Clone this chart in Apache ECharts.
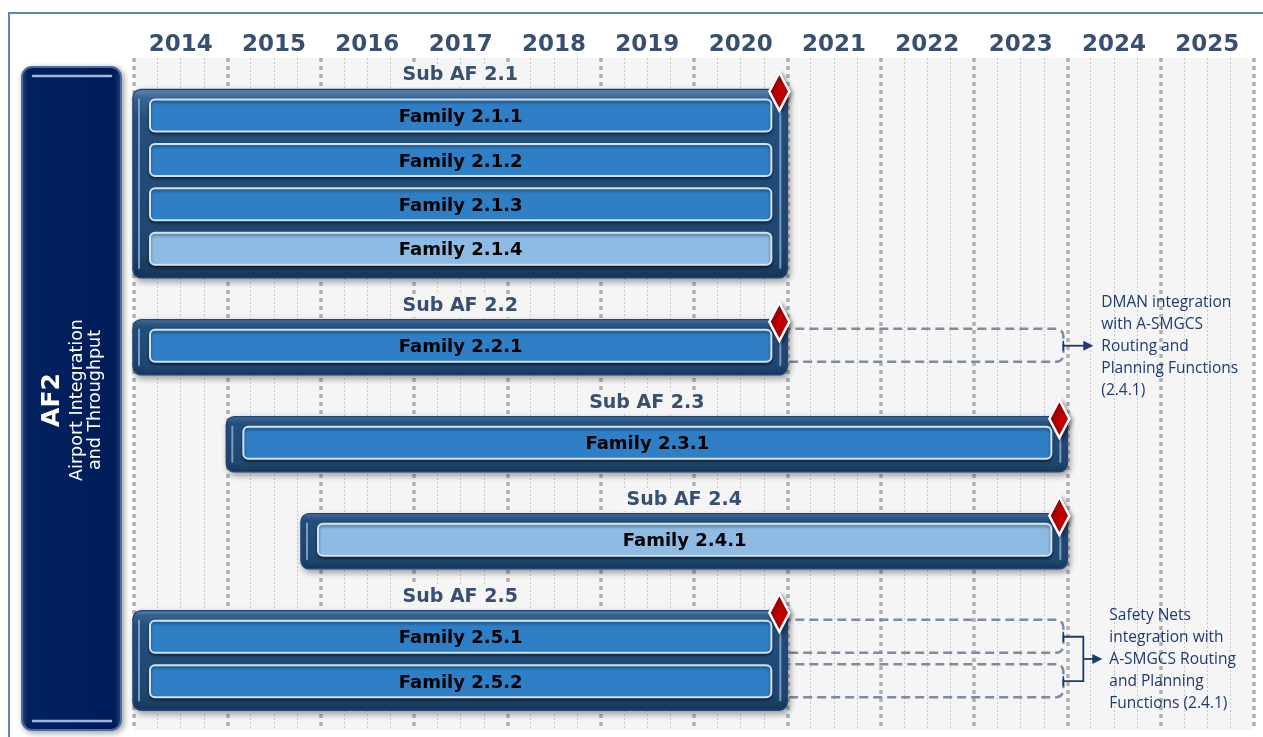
<!DOCTYPE html>
<html>
<head>
<meta charset="utf-8">
<title>AF2 Airport Integration and Throughput</title>
<script src="https://cdn.jsdelivr.net/npm/echarts@6/dist/echarts.min.js"></script>
<style>
  html, body { margin: 0; padding: 0; background: #fff; }
  #chart { width: 1263px; height: 737px; }
</style>
</head>
<body>
<div id="chart"></div>
<script>
// timeline columns
const years = ['2014', '2015', '2016', '2017', '2018', '2019', '2020', '2021', '2022', '2023', '2024', '2025'];

// sub functionalities (start / end as fractional years)
const subAFs = ['Sub AF 2.1', 'Sub AF 2.2', 'Sub AF 2.3', 'Sub AF 2.4', 'Sub AF 2.5'];
const subStart = [2014, 2014, 2015, 2015.8, 2014];
const subEnd = [2021, 2021, 2024, 2024, 2021];

// families and the sub AF they belong to
const families = ['Family 2.1.1', 'Family 2.1.2', 'Family 2.1.3', 'Family 2.1.4', 'Family 2.2.1',
  'Family 2.3.1', 'Family 2.4.1', 'Family 2.5.1', 'Family 2.5.2'];
const familySub = [0, 0, 0, 0, 1, 2, 3, 4, 4];
const familyShade = ['dark', 'dark', 'dark', 'light', 'dark', 'dark', 'light', 'dark', 'dark'];

// dashed continuation after the sub AF deadline
const extFamilies = ['Family 2.2.1', 'Family 2.5.1', 'Family 2.5.2'];
const extEnd = [2024, 2024, 2024];

// side notes
const notes = [
  'DMAN integration\nwith A-SMGCS\nRouting and\nPlanning Functions\n(2.4.1)',
  'Safety Nets\nintegration with\nA-SMGCS Routing\nand Planning\nFunctions (2.4.1)'
];
const noteFamilies = [['Family 2.2.1'], ['Family 2.5.1', 'Family 2.5.2']];

// row layout: label row, one row per family, small gap between sub AFs
const labelRow = [];
const lastRow = [];
const familyRow = [];
let row = 0;
subAFs.forEach((name, g) => {
  labelRow[g] = row;
  row += 0.946;
  families.forEach((f, i) => {
    if (familySub[i] === g) {
      familyRow[i] = row;
      lastRow[g] = row;
      row += 1;
    }
  });
  row += 0.239;
});

const titleColor = '#384f70';
const noteColor = '#1f3a6e';
const boldFont = '"DejaVu Sans", Verdana, sans-serif';

const chart = echarts.init(document.getElementById('chart'));

function renderGroup(params, api) {
  const a = api.coord([api.value(0), api.value(2)]);
  const b = api.coord([api.value(1), api.value(3)]);
  const x0 = a[0] - 1, x1 = b[0];
  const top = a[1] + 16, bottom = b[1] + 29;
  const name = subAFs[params.dataIndex];
  return {
    type: 'group',
    children: [
      {
        type: 'rect',
        shape: { x: x0, y: top, width: x1 - x0, height: bottom - top, r: 8 },
        style: {
          fill: new echarts.graphic.LinearGradient(0, 0, 0, 1, [
            { offset: 0, color: '#6f95c0' },
            { offset: 0.05, color: '#3b6796' },
            { offset: 0.15, color: '#24507e' },
            { offset: 0.85, color: '#1f4670' },
            { offset: 1, color: '#163658' }
          ]),
          stroke: '#23457d',
          lineWidth: 1.5,
          shadowBlur: 6,
          shadowColor: 'rgba(0,0,0,0.35)',
          shadowOffsetX: 2,
          shadowOffsetY: 3
        }
      },
      {
        type: 'line',
        shape: { x1: x0 + 6, y1: top + 9, x2: x0 + 6, y2: bottom - 9 },
        style: { stroke: '#8fb2d8', lineWidth: 2, opacity: 0.8 }
      },
      {
        type: 'line',
        shape: { x1: x1 - 7, y1: top + 9, x2: x1 - 7, y2: bottom - 9 },
        style: { stroke: '#8fb2d8', lineWidth: 2, opacity: 0.8 }
      },
      {
        type: 'text',
        style: {
          text: name, x: (x0 + x1) / 2, y: a[1] + 2,
          align: 'center', verticalAlign: 'middle',
          font: 'bold 19px ' + boldFont, fill: titleColor,
          backgroundColor: '#f5f5f5', padding: [2, 10]
        }
      },
      {
        type: 'polygon',
        z2: 10,
        shape: { points: [[x1 - 8, top - 17], [x1 + 2, top + 2], [x1 - 8, top + 21], [x1 - 18, top + 2]] },
        style: {
          fill: '#c00000', stroke: '#fff', lineWidth: 2.5,
          shadowBlur: 4, shadowColor: 'rgba(0,0,0,0.4)', shadowOffsetX: 2, shadowOffsetY: 2
        }
      }
    ]
  };
}

function renderFamily(params, api) {
  const a = api.coord([api.value(0), api.value(2)]);
  const b = api.coord([api.value(1), api.value(2)]);
  const x0 = a[0] + 16, x1 = b[0] - 16, y = a[1];
  const light = familyShade[params.dataIndex] === 'light';
  return {
    type: 'group',
    children: [
      {
        type: 'rect',
        shape: { x: x0, y: y - 16, width: x1 - x0, height: 32, r: 5 },
        style: {
          fill: light ? '#8ebbe4' : '#2f7fc6',
          stroke: '#d3e3f3', lineWidth: 2,
          shadowBlur: 3, shadowColor: 'rgba(0,0,0,0.45)', shadowOffsetY: 2
        }
      },
      {
        type: 'text',
        style: {
          text: families[params.dataIndex], x: (x0 + x1) / 2, y: y + 2,
          align: 'center', verticalAlign: 'middle',
          font: 'bold 18px ' + boldFont, fill: '#000'
        }
      }
    ]
  };
}

function renderExt(params, api) {
  const a = api.coord([api.value(0), api.value(2)]);
  const b = api.coord([api.value(1), api.value(2)]);
  const x0 = a[0] - 20, x1 = b[0] - 4, y = a[1];
  return {
    type: 'rect',
    shape: { x: x0, y: y - 17, width: x1 - x0, height: 33, r: [0, 7, 7, 0] },
    style: { fill: 'none', stroke: '#7b8ca5', lineWidth: 2.5, lineDash: [9, 5] }
  };
}

function renderNote(params, api) {
  const a = api.coord([api.value(0), api.value(1)]);
  const b = api.coord([api.value(0), api.value(2)]);
  const x = a[0] - 4;
  const kids = [];
  const arrow = (xs, xe, y) => {
    kids.push({ type: 'line', shape: { x1: xs, y1: y, x2: xe - 8, y2: y }, style: { stroke: noteColor, lineWidth: 1.8 } });
    kids.push({ type: 'polygon', shape: { points: [[xe - 10, y - 5], [xe, y], [xe - 10, y + 5]] }, style: { fill: noteColor } });
  };
  const tick = (y) => {
    kids.push({ type: 'line', shape: { x1: x, y1: y - 5, x2: x, y2: y + 5 }, style: { stroke: noteColor, lineWidth: 1.5 } });
  };
  let textX, midY;
  if (a[1] === b[1]) {
    tick(a[1]);
    arrow(x, x + 30, a[1]);
    textX = x + 38;
    midY = a[1];
  } else {
    const bx = x + 20;
    tick(a[1]);
    tick(b[1]);
    kids.push({
      type: 'polyline',
      shape: { points: [[x, a[1]], [bx, a[1]], [bx, b[1]], [x, b[1]]] },
      style: { stroke: noteColor, lineWidth: 1.8, fill: 'none' }
    });
    midY = (a[1] + b[1]) / 2;
    arrow(bx, bx + 19, midY);
    textX = x + 46;
  }
  kids.push({
    type: 'text',
    style: {
      text: notes[params.dataIndex], x: textX, y: midY + 1,
      align: 'left', verticalAlign: 'middle', lineHeight: 22,
      font: '15.5px "Open Sans", sans-serif', fill: noteColor
    }
  });
  return { type: 'group', children: kids };
}

const groupData = subAFs.map((n, g) => [subStart[g], subEnd[g], labelRow[g], lastRow[g]]);
const familyData = families.map((f, i) => [subStart[familySub[i]], subEnd[familySub[i]], familyRow[i]]);
const extData = extFamilies.map((f, k) => {
  const i = families.indexOf(f);
  return [subEnd[familySub[i]], extEnd[k], familyRow[i]];
});
const noteData = notes.map((n, k) => {
  const rows = noteFamilies[k].map(f => familyRow[families.indexOf(f)]);
  const i = families.indexOf(noteFamilies[k][0]);
  return [extEnd[extFamilies.indexOf(families[i])], Math.min(...rows), Math.max(...rows)];
});

const option = {
  animation: false,
  grid: {
    left: 134, right: 9, top: 58, bottom: 7,
    show: true, backgroundColor: '#f5f5f5', borderWidth: 0
  },
  xAxis: [
    {
      type: 'value', min: 2014, max: 2026, interval: 1,
      axisLine: { show: false }, axisTick: { show: false }, axisLabel: { show: false },
      splitLine: { show: true, lineStyle: { color: '#b0b0b0', width: 3.5, type: [4, 4] } },
      minorTick: { show: false, splitNumber: 4 },
      minorSplitLine: { show: true, lineStyle: { color: '#c8c8c8', width: 1, type: [2, 2] } }
    },
    {
      type: 'category', data: years, position: 'top',
      axisLine: { show: false }, axisTick: { show: false },
      axisLabel: { fontSize: 23, fontWeight: 'bold', fontFamily: boldFont, color: titleColor, margin: 1 }
    }
  ],
  yAxis: { type: 'value', inverse: true, min: -0.349, max: 14.786, show: false },
  graphic: [
    {
      type: 'polyline', silent: true,
      shape: { points: [[9, 737], [9, 13], [1263, 13]] },
      style: { stroke: '#5a86b8', lineWidth: 2, fill: 'none' }
    },
    {
      type: 'rect', silent: true,
      shape: { x: 22, y: 67, width: 99, height: 663, r: 10 },
      style: {
        fill: new echarts.graphic.LinearGradient(0, 0, 1, 0, [
          { offset: 0, color: '#2c4c8c' },
          { offset: 0.07, color: '#02215f' },
          { offset: 0.93, color: '#001d58' },
          { offset: 1, color: '#2c4c8c' }
        ]),
        stroke: '#4a6aa8', lineWidth: 2,
        shadowBlur: 6, shadowColor: 'rgba(0,0,0,0.35)', shadowOffsetX: 2, shadowOffsetY: 2
      }
    },
    {
      type: 'line', silent: true,
      shape: { x1: 33, y1: 76, x2: 111, y2: 76 },
      style: { stroke: '#9ab8e6', lineWidth: 2.5, lineCap: 'round' }
    },
    {
      type: 'line', silent: true,
      shape: { x1: 33, y1: 721, x2: 111, y2: 721 },
      style: { stroke: '#9ab8e6', lineWidth: 2.5, lineCap: 'round' }
    },
    {
      type: 'text', silent: true, x: 52, y: 400, rotation: Math.PI / 2,
      style: { text: 'AF2', fill: '#fff', font: 'bold 25px ' + boldFont, align: 'center', verticalAlign: 'middle' }
    },
    {
      type: 'text', silent: true, x: 86, y: 400, rotation: Math.PI / 2,
      style: {
        text: 'Airport Integration\nand Throughput', fill: '#fff', lineHeight: 18,
        font: '17.5px ' + boldFont, align: 'center', verticalAlign: 'middle'
      }
    }
  ],
  series: [
    { type: 'custom', name: 'Continuation', renderItem: renderExt, data: extData, encode: { x: [0, 1], y: 2 } },
    { type: 'custom', name: 'Sub AF', renderItem: renderGroup, data: groupData, encode: { x: [0, 1], y: [2, 3] } },
    { type: 'custom', name: 'Family', renderItem: renderFamily, data: familyData, encode: { x: [0, 1], y: 2 } },
    { type: 'custom', name: 'Notes', renderItem: renderNote, data: noteData, encode: { x: 0, y: [1, 2] } }
  ]
};

chart.setOption(option);
window.addEventListener('resize', () => chart.resize());
</script>
</body>
</html>
